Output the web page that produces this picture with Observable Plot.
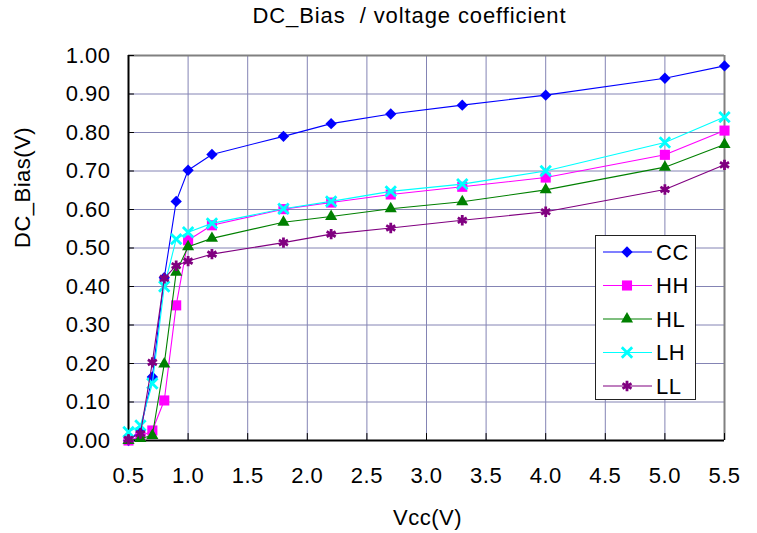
<!DOCTYPE html>
<html><head><meta charset="utf-8">
<script src="https://cdn.jsdelivr.net/npm/d3@7"></script>
<script src="https://cdn.jsdelivr.net/npm/@observablehq/plot@0.6"></script>
<style>
body{margin:0;background:#fff;}
#wrap{position:relative;width:757px;height:533px;font-family:"Liberation Sans",Arial,sans-serif;}
svg text{white-space:pre;}
#legend{position:absolute;left:595px;top:235px;width:101px;height:165px;border:1px solid #222;background:#fff;box-sizing:border-box;}
#legend svg{position:absolute;left:0;top:0;overflow:visible;}
</style></head><body><div id="wrap"></div>
<script>
// ---- data ----
const vcc = [0.5, 0.6, 0.7, 0.8, 0.9, 1.0, 1.2, 1.8, 2.2, 2.7, 3.3, 4.0, 5.0, 5.5];
const CC = [0.000, 0.027, 0.165, 0.423, 0.621, 0.702, 0.743, 0.790, 0.823, 0.848, 0.871, 0.897, 0.941, 0.973];
const HH = [0.000, 0.010, 0.026, 0.104, 0.351, 0.520, 0.559, 0.601, 0.618, 0.639, 0.659, 0.683, 0.742, 0.805];
const HL = [0.000, 0.005, 0.013, 0.199, 0.437, 0.503, 0.525, 0.567, 0.582, 0.602, 0.620, 0.651, 0.710, 0.769];
const LH = [0.022, 0.039, 0.148, 0.400, 0.523, 0.541, 0.564, 0.602, 0.621, 0.647, 0.666, 0.700, 0.774, 0.840];
const LL = [0.003, 0.018, 0.203, 0.421, 0.454, 0.466, 0.484, 0.514, 0.536, 0.552, 0.572, 0.594, 0.652, 0.716];
const seriesNames = ["CC", "HH", "HL", "LH", "LL"];
const seriesColors = ["#0000ff", "#ff00ff", "#008000", "#00ffff", "#800080"];
const seriesSymbols = ["diamond2", "square", "triangle", "times", "asterisk"];
const xTicks = [0.5, 1.0, 1.5, 2.0, 2.5, 3.0, 3.5, 4.0, 4.5, 5.0, 5.5];
const yTicks = [0.0, 0.1, 0.2, 0.3, 0.4, 0.5, 0.6, 0.7, 0.8, 0.9, 1.0];
const titleText = "DC_Bias  / voltage coefficient";
const xLabel = "Vcc(V)";
const yLabel = "DC_Bias(V)";

// ---- build ----
const seriesValues = {CC, HH, HL, LH, LL};
const rows = seriesNames.flatMap(s => vcc.map((v, i) => ({series: s, vcc: v, bias: seriesValues[s][i]})));

const symR = {diamond2: 5.1, square: 5.7, triangle: 4.5, times: 4.8, asterisk: 4.9};
const strokeSyms = new Set(["times", "asterisk"]);
const symMap = {diamond2: d3.symbolDiamond2, square: d3.symbolSquare, triangle: d3.symbolTriangle, times: d3.symbolTimes, asterisk: d3.symbolAsterisk};

const font = "Liberation Sans, Arial, sans-serif";
const gridColor = "#8484b4";

const marks = [
  Plot.ruleX(xTicks, {stroke: gridColor, strokeWidth: 1}),
  Plot.ruleY(yTicks, {stroke: gridColor, strokeWidth: 1}),
  Plot.ruleY([yTicks[yTicks.length - 1]], {stroke: "#808080", strokeWidth: 2}),
  Plot.ruleX([xTicks[xTicks.length - 1]], {stroke: "#808080", strokeWidth: 2}),
  Plot.ruleY(yTicks, {x1: xTicks[0], x2: xTicks[0] + 0.05, stroke: "#000", strokeWidth: 1}),
  Plot.ruleX(xTicks, {y1: 0, y2: 0.018, stroke: "#000", strokeWidth: 1}),
  Plot.ruleX([xTicks[0]], {stroke: "#000", strokeWidth: 2}),
  Plot.ruleY([yTicks[0]], {stroke: "#000", strokeWidth: 2}),
];
seriesNames.forEach((s, k) => {
  const data = rows.filter(d => d.series === s);
  const sym = seriesSymbols[k];
  marks.push(Plot.line(data, {x: "vcc", y: "bias", stroke: seriesColors[k], strokeWidth: 1.1}));
  if (strokeSyms.has(sym)) {
    marks.push(Plot.dot(data, {x: "vcc", y: "bias", symbol: sym, r: symR[sym], stroke: seriesColors[k], strokeWidth: 2.8, fill: "none"}));
  } else {
    marks.push(Plot.dot(data, {x: "vcc", y: "bias", symbol: sym, r: symR[sym], fill: seriesColors[k], stroke: "none"}));
  }
});
marks.push(
  Plot.axisX(xTicks, {tickSize: 0, tickPadding: 27, tickFormat: d3.format(".1f"), fontSize: 22, label: null, fill: "#000"}),
  Plot.axisY(yTicks, {tickSize: 0, tickPadding: 18, tickFormat: d3.format(".2f"), fontSize: 22, label: null, fill: "#000"}),
  Plot.text([titleText], {frameAnchor: "top", dy: -40, dx: -17, fontSize: 22, lineAnchor: "middle", fill: "#000"}),
  Plot.text([xLabel], {frameAnchor: "bottom", dy: 77, dx: 1, fontSize: 22, lineAnchor: "middle", fill: "#000"}),
  Plot.text([yLabel], {frameAnchor: "left", dx: -106, rotate: -90, fontSize: 22, lineAnchor: "middle", fill: "#000"})
);

const chart = Plot.plot({
  width: 757, height: 533,
  marginLeft: 128, marginRight: 33, marginTop: 55, marginBottom: 93,
  style: {fontFamily: font, background: "#fff", color: "#000", overflow: "visible"},
  x: {domain: [xTicks[0], xTicks[xTicks.length - 1]]},
  y: {domain: [yTicks[0], yTicks[yTicks.length - 1]]},
  marks
});
const wrap = document.getElementById("wrap");
wrap.appendChild(chart);

// slightly wider text, as in the reference rendering
d3.select(chart).selectAll("text").each(function() {
  const t = this.textContent;
  if (t === titleText) this.style.letterSpacing = "0.9px";
  else if (t === xLabel || t === yLabel) this.style.letterSpacing = "0.5px";
  else this.style.letterSpacing = "0.5px";
});

// ---- legend ----
const leg = document.createElement("div");
leg.id = "legend";
wrap.appendChild(leg);
const lsvg = d3.select(leg).append("svg").attr("width", 101).attr("height", 165);
seriesNames.forEach((s, k) => {
  const cy = 16 + k * 33.5;
  const g = lsvg.append("g");
  g.append("line").attr("x1", 7).attr("x2", 56).attr("y1", cy).attr("y2", cy)
    .attr("stroke", seriesColors[k]).attr("stroke-width", 1.1);
  const sym = seriesSymbols[k];
  const r = symR[sym];
  const p = g.append("path").attr("transform", `translate(31,${cy})`)
    .attr("d", d3.symbol(symMap[sym], Math.PI * r * r)());
  if (strokeSyms.has(sym)) p.attr("stroke", seriesColors[k]).attr("stroke-width", 2.8).attr("fill", "none");
  else p.attr("fill", seriesColors[k]);
  g.append("text").attr("x", 60).attr("y", cy).attr("dy", "0.35em").style("letter-spacing", "0.5px")
    .attr("font-size", 22).attr("font-family", font).attr("fill", "#000").text(s);
});
</script></body></html>
